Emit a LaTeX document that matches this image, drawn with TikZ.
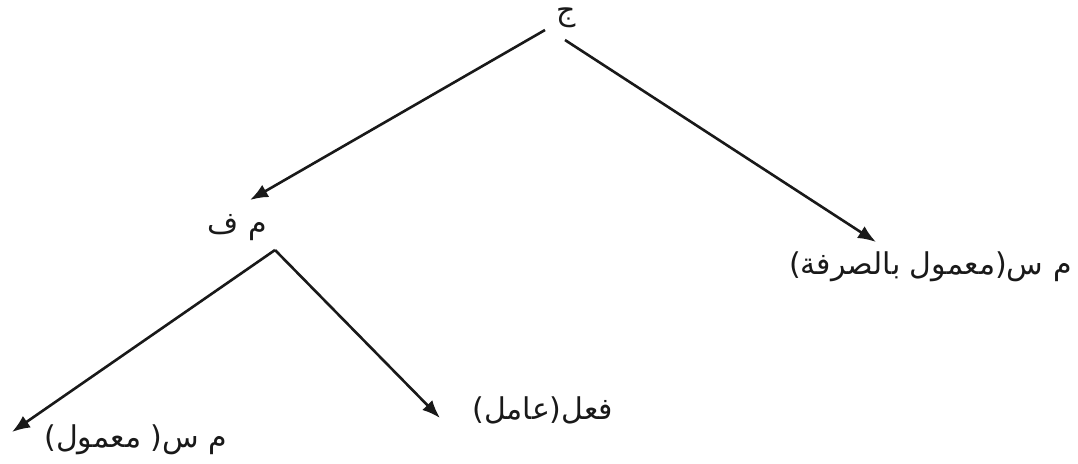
\documentclass[tikz,border=0pt]{standalone}
\usepackage{fontspec}
\newfontfamily\arabicfont[Script=Arabic]{DejaVu Sans}
\TeXXeTstate=1
\usetikzlibrary{arrows.meta,calc,positioning}
\definecolor{InkBlack}{RGB}{25,25,25}

\begin{document}
\begin{tikzpicture}[x=0.5pt,y=-0.5pt,>={Latex[length=9pt,width=7pt]},
    lbl/.style={font=\arabicfont\fontsize{15}{17}\selectfont,inner sep=2pt,InkBlack},
    arr/.style={->,line width=1.3pt,InkBlack}]
      \useasboundingbox (0,0) rectangle (1078,463);
      \node[lbl] (jim) at (566,18) {\beginR ج\endR};
      \node[lbl] (mf) at (237,228) {\beginR م ف\endR};
      \node[lbl,anchor=east] (msA) at (1076,267) {\beginR م س(معمول بالصرفة)\endR};
      \node[lbl,anchor=west] (msB) at (40,440) {\beginR م س( معمول)\endR};
      \node[lbl,anchor=west] (fil) at (468,410) {\beginR فعل(عامل)\endR};
      \coordinate (fork) at ($(mf.center)+(38,22)$);
      \draw[arr] ($(jim.center)+(-21,12)$) -- ($(mf.center)+(13,-28)$);
      \draw[arr] ($(jim.center)+(-1,22)$) -- ($(msA.east)+(-200,-25)$);
      \draw[arr] (fork) -- ($(msB.west)+(-28,-8)$);
      \draw[arr] (fork) -- ($(fil.west)+(-28,8)$);
    \end{tikzpicture}
\end{document}
